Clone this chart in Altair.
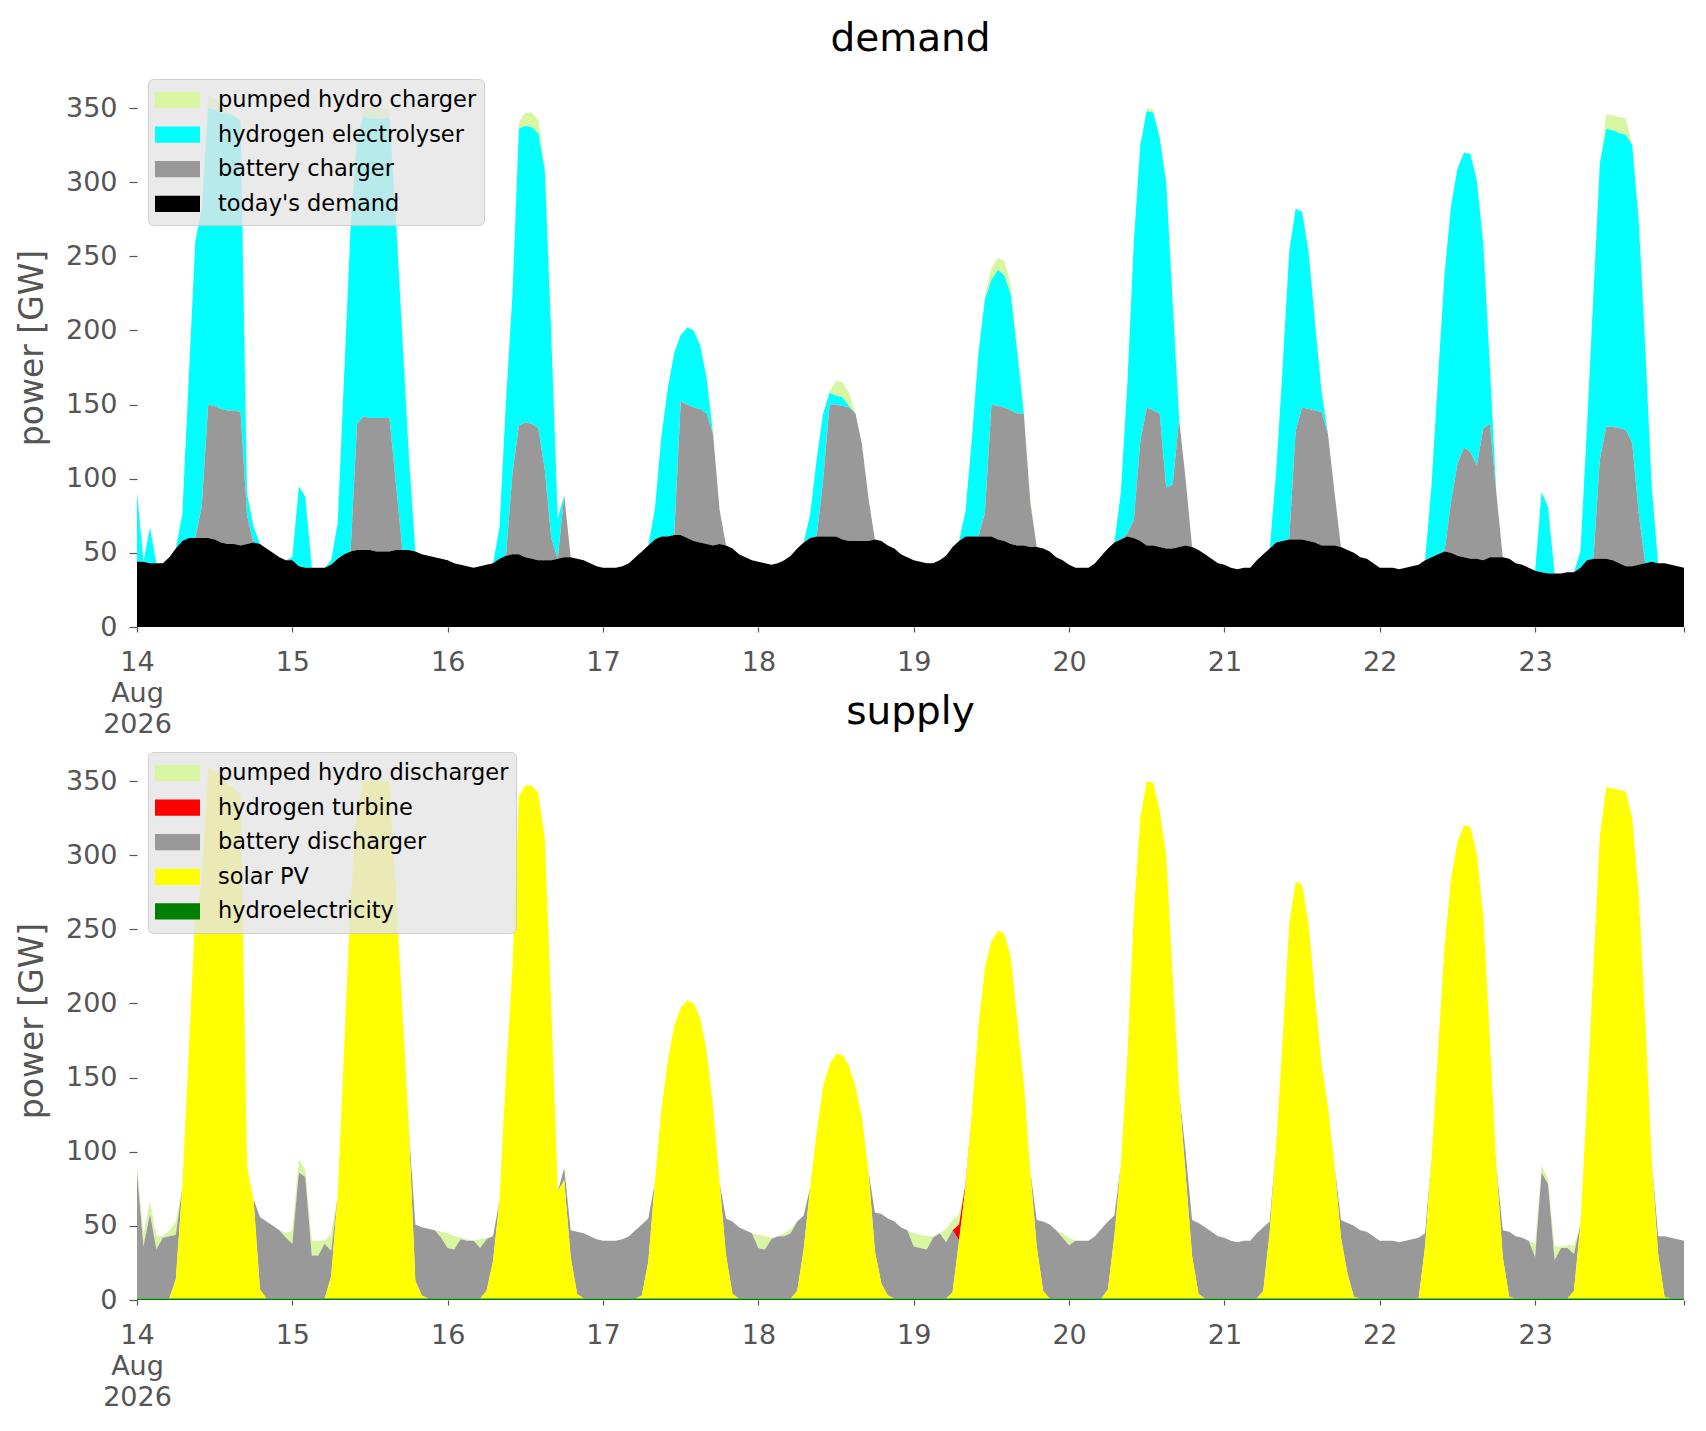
import altair as alt
import pandas as pd

# ---------------- data (hourly, 14 Aug 2026 00:00 .. 23 Aug 2026 23:00) ----------------
days = [14, 15, 16, 17, 18, 19, 20, 21, 22, 23]

# demand side
todays_demand = [
    [44, 44, 43, 43, 43, 47, 53, 58, 60, 60, 60, 60, 59, 57, 56, 56, 55, 56, 57, 56, 53, 50, 47, 45],
    [45, 41, 40, 40, 40, 40, 42, 46, 49, 51, 52, 52, 52, 51, 51, 51, 52, 52, 52, 51, 49, 48, 47, 46],
    [45, 43, 42, 41, 40, 41, 42, 43, 46, 48, 49, 49, 47, 46, 45, 45, 45, 46, 47, 47, 46, 45, 43, 41],
    [40, 40, 40, 41, 43, 47, 51, 55, 59, 61, 61, 62, 62, 60, 58, 57, 56, 55, 56, 55, 53, 49, 47, 45],
    [44, 43, 42, 43, 45, 48, 53, 57, 60, 61, 61, 61, 61, 59, 58, 58, 58, 58, 59, 58, 55, 53, 49, 47],
    [45, 44, 43, 43, 45, 48, 54, 58, 61, 61, 61, 61, 61, 59, 58, 56, 55, 55, 54, 54, 53, 51, 47, 45],
    [42, 40, 40, 40, 43, 48, 53, 57, 59, 61, 60, 58, 55, 55, 54, 53, 53, 54, 55, 54, 52, 49, 46, 43],
    [42, 40, 39, 40, 40, 45, 49, 53, 57, 58, 59, 59, 59, 58, 57, 55, 55, 55, 54, 52, 50, 47, 46, 43],
    [40, 40, 40, 39, 40, 41, 42, 45, 47, 49, 51, 50, 48, 47, 46, 46, 45, 47, 47, 47, 46, 43, 42, 40],
    [38, 37, 36, 36, 36, 37, 37, 40, 45, 46, 46, 46, 45, 43, 41, 41, 42, 43, 44, 43, 43, 42, 41, 40],
]
battery_charger = [
    [0, 0, 0, 0, 0, 0, 0, 0, 0, 0, 21, 90, 90, 90, 90, 90, 90, 19, 0, 0, 0, 0, 0, 0],
    [0, 0, 0, 0, 0, 0, 0, 0, 0, 0, 85, 90, 89, 90, 90, 90, 45, 0, 0, 0, 0, 0, 0, 0],
    [0, 0, 0, 0, 0, 0, 0, 0, 0, 0, 54, 87, 91, 91, 89, 61, 15, 0, 42, 0, 0, 0, 0, 0],
    [0, 0, 0, 0, 0, 0, 0, 0, 0, 0, 0, 0, 90, 90, 90, 90, 88, 75, 23, 0, 0, 0, 0, 0],
    [0, 0, 0, 0, 0, 0, 0, 0, 0, 0, 38, 89, 89, 90, 90, 86, 65, 29, 0, 0, 0, 0, 0, 0],
    [0, 0, 0, 0, 0, 0, 0, 0, 0, 0, 0, 16, 89, 90, 90, 90, 89, 89, 30, 0, 0, 0, 0, 0],
    [0, 0, 0, 0, 0, 0, 0, 0, 0, 2, 12, 67, 93, 91, 90, 41, 43, 86, 45, 0, 0, 0, 0, 0],
    [0, 0, 0, 0, 0, 0, 0, 0, 0, 0, 0, 73, 89, 89, 89, 90, 75, 36, 0, 0, 0, 0, 0, 0],
    [0, 0, 0, 0, 0, 0, 0, 0, 0, 0, 0, 34, 62, 74, 72, 63, 89, 90, 44, 0, 0, 0, 0, 0],
    [0, 0, 0, 0, 0, 0, 0, 0, 0, 0, 67, 89, 90, 91, 92, 83, 35, 0, 0, 0, 0, 0, 0, 0],
]
hydrogen_electrolyser = [
    [47, 0, 24, 0, 0, 0, 0, 18, 108, 200, 200, 200, 200, 200, 200, 199, 196, 15, 11, 0, 0, 0, 0, 0],
    [2, 54, 48, 0, 0, 0, 3, 24, 121, 219, 193, 203, 202, 202, 202, 202, 178, 143, 63, 0, 0, 0, 0, 0],
    [0, 0, 0, 0, 0, 0, 0, 0, 21, 104, 121, 200, 200, 200, 199, 202, 137, 27, 0, 0, 0, 0, 0, 0],
    [0, 0, 0, 0, 0, 0, 0, 0, 20, 67, 100, 123, 45, 52, 52, 43, 24, 0, 0, 0, 0, 0, 0, 0],
    [0, 0, 0, 0, 0, 0, 0, 0, 16, 52, 45, 8, 6, 6, 1, 0, 0, 0, 0, 0, 0, 0, 0, 0],
    [0, 0, 0, 0, 0, 0, 0, 0, 17, 67, 124, 144, 84, 92, 89, 78, 41, 0, 0, 0, 0, 0, 0, 0],
    [0, 0, 0, 0, 0, 0, 0, 0, 32, 101, 188, 200, 200, 201, 186, 206, 123, 0, 0, 0, 0, 0, 0, 0],
    [0, 0, 0, 0, 0, 0, 0, 0, 48, 118, 194, 150, 132, 106, 59, 14, 0, 0, 0, 0, 0, 0, 0, 0],
    [0, 0, 0, 0, 0, 0, 0, 0, 49, 119, 187, 200, 199, 199, 201, 192, 124, 39, 0, 0, 0, 0, 0, 0],
    [0, 54, 45, 0, 0, 0, 0, 11, 89, 178, 200, 201, 200, 199, 199, 201, 197, 147, 51, 0, 0, 0, 0, 0],
]
pumped_hydro_charger = [
    [0, 0, 0, 0, 0, 0, 0, 0, 0, 0, 0, 9, 8, 6, 2, 0, 0, 0, 0, 0, 0, 0, 0, 0],
    [0, 0, 0, 0, 0, 0, 0, 0, 0, 0, 0, 5, 7, 7, 7, 6, 0, 0, 0, 0, 0, 0, 0, 0],
    [0, 0, 0, 0, 0, 0, 0, 0, 0, 0, 0, 4, 9, 10, 9, 3, 0, 0, 0, 0, 0, 0, 0, 0],
    [0, 0, 0, 0, 0, 0, 0, 0, 0, 0, 0, 0, 0, 0, 0, 0, 0, 0, 0, 0, 0, 0, 0, 0],
    [0, 0, 0, 0, 0, 0, 0, 0, 0, 0, 0, 1, 10, 10, 9, 0, 0, 0, 0, 0, 0, 0, 0, 0],
    [0, 0, 0, 0, 0, 0, 0, 0, 0, 0, 0, 3, 8, 8, 10, 7, 3, 3, 3, 0, 0, 0, 0, 0],
    [0, 0, 0, 0, 0, 0, 0, 0, 0, 0, 0, 0, 2, 2, 0, 0, 0, 0, 0, 0, 0, 0, 0, 0],
    [0, 0, 0, 0, 0, 0, 0, 0, 0, 0, 0, 0, 0, 0, 0, 0, 0, 0, 0, 0, 0, 0, 0, 0],
    [0, 0, 0, 0, 0, 0, 0, 0, 0, 0, 0, 0, 0, 0, 0, 0, 0, 0, 0, 0, 0, 0, 0, 0],
    [0, 0, 0, 0, 0, 0, 0, 0, 0, 0, 0, 10, 10, 11, 11, 0, 0, 0, 0, 0, 0, 0, 0, 0],
]

# supply side
hydroelectricity = [
    [1, 1, 1, 1, 1, 1, 1, 1, 1, 1, 1, 1, 1, 1, 1, 1, 1, 1, 1, 1, 1, 1, 1, 1],
    [1, 1, 1, 1, 1, 1, 1, 1, 1, 1, 1, 1, 1, 1, 1, 1, 1, 1, 1, 1, 1, 1, 1, 1],
    [1, 1, 1, 1, 1, 1, 1, 1, 1, 1, 1, 1, 1, 1, 1, 1, 1, 1, 1, 1, 1, 1, 1, 1],
    [1, 1, 1, 1, 1, 1, 1, 1, 1, 1, 1, 1, 1, 1, 1, 1, 1, 1, 1, 1, 1, 1, 1, 1],
    [1, 1, 1, 1, 1, 1, 1, 1, 1, 1, 1, 1, 1, 1, 1, 1, 1, 1, 1, 1, 1, 1, 1, 1],
    [1, 1, 1, 1, 1, 1, 1, 1, 1, 1, 1, 1, 1, 1, 1, 1, 1, 1, 1, 1, 1, 1, 1, 1],
    [1, 1, 1, 1, 1, 1, 1, 1, 1, 1, 1, 1, 1, 1, 1, 1, 1, 1, 1, 1, 1, 1, 1, 1],
    [1, 1, 1, 1, 1, 1, 1, 1, 1, 1, 1, 1, 1, 1, 1, 1, 1, 1, 1, 1, 1, 1, 1, 1],
    [1, 1, 1, 1, 1, 1, 1, 1, 1, 1, 1, 1, 1, 1, 1, 1, 1, 1, 1, 1, 1, 1, 1, 1],
    [1, 1, 1, 1, 1, 1, 1, 1, 1, 1, 1, 1, 1, 1, 1, 1, 1, 1, 1, 1, 1, 1, 1, 1],
]
solar_pv = [
    [0, 0, 0, 0, 0, 0, 13, 75, 167, 259, 280, 358, 356, 352, 347, 344, 340, 89, 67, 6, 0, 0, 0, 0],
    [0, 0, 0, 0, 0, 0, 15, 69, 169, 269, 329, 349, 349, 349, 349, 348, 274, 194, 114, 12, 2, 0, 0, 0],
    [0, 0, 0, 0, 0, 0, 5, 25, 66, 151, 223, 339, 346, 346, 341, 310, 196, 72, 80, 28, 3, 0, 0, 0],
    [0, 0, 0, 0, 0, 0, 2, 25, 78, 127, 160, 184, 196, 201, 199, 189, 167, 129, 78, 29, 3, 0, 0, 0],
    [0, 0, 0, 0, 0, 0, 5, 33, 75, 112, 143, 158, 165, 164, 157, 143, 122, 86, 32, 10, 2, 0, 0, 0],
    [0, 0, 0, 0, 0, 0, 4, 39, 75, 127, 184, 223, 241, 248, 246, 230, 187, 146, 86, 35, 5, 0, 0, 0],
    [0, 0, 0, 0, 0, 0, 6, 42, 90, 163, 259, 324, 349, 348, 329, 299, 218, 139, 84, 29, 3, 0, 0, 0],
    [0, 0, 0, 0, 0, 0, 5, 45, 104, 175, 252, 281, 279, 252, 204, 158, 129, 90, 41, 17, 1, 0, 0, 0],
    [0, 0, 0, 0, 0, 0, 0, 35, 95, 167, 237, 283, 308, 319, 318, 300, 257, 175, 90, 28, 1, 0, 0, 0],
    [0, 0, 0, 0, 0, 0, 5, 50, 133, 223, 312, 345, 344, 343, 342, 324, 273, 189, 94, 30, 1, 0, 0, 0],
]
battery_discharger = [
    [85, 35, 57, 33, 41, 42, 30, 0, 0, 0, 0, 0, 0, 0, 0, 0, 0, 0, 0, 49, 52, 49, 46, 41],
    [37, 85, 82, 29, 29, 37, 17, 0, 0, 0, 0, 0, 0, 0, 0, 0, 0, 0, 0, 38, 46, 47, 46, 41],
    [34, 33, 40, 39, 39, 34, 35, 17, 0, 0, 0, 0, 0, 0, 0, 0, 0, 0, 8, 18, 42, 44, 42, 40],
    [39, 39, 39, 40, 42, 46, 48, 29, 0, 0, 0, 0, 0, 0, 0, 0, 0, 0, 0, 25, 49, 48, 46, 44],
    [34, 33, 40, 42, 42, 44, 47, 23, 0, 0, 0, 0, 0, 0, 0, 0, 0, 0, 26, 47, 52, 52, 48, 46],
    [35, 34, 33, 41, 44, 38, 42, 0, 0, 0, 0, 0, 0, 0, 0, 0, 0, 0, 0, 18, 47, 50, 46, 41],
    [36, 39, 39, 39, 42, 47, 46, 14, 0, 0, 0, 0, 0, 0, 0, 0, 0, 0, 15, 24, 48, 48, 45, 42],
    [41, 39, 38, 39, 39, 44, 43, 7, 0, 0, 0, 0, 0, 0, 0, 0, 0, 0, 12, 34, 48, 46, 45, 42],
    [39, 39, 39, 38, 39, 40, 41, 9, 0, 0, 0, 0, 0, 0, 0, 0, 0, 0, 0, 18, 44, 42, 41, 39],
    [28, 85, 77, 26, 34, 34, 25, 0, 0, 0, 0, 0, 0, 0, 0, 0, 0, 0, 0, 12, 41, 41, 40, 39],
]
hydrogen_turbine = [
    [0, 0, 0, 0, 0, 0, 0, 0, 0, 0, 0, 0, 0, 0, 0, 0, 0, 0, 0, 0, 0, 0, 0, 0],
    [0, 0, 0, 0, 0, 0, 0, 0, 0, 0, 0, 0, 0, 0, 0, 0, 0, 0, 0, 0, 0, 0, 0, 0],
    [0, 0, 0, 0, 0, 0, 0, 0, 0, 0, 0, 0, 0, 0, 0, 0, 0, 0, 0, 0, 0, 0, 0, 0],
    [0, 0, 0, 0, 0, 0, 0, 0, 0, 0, 0, 0, 0, 0, 0, 0, 0, 0, 0, 0, 0, 0, 0, 0],
    [0, 0, 0, 0, 0, 0, 0, 0, 0, 0, 0, 0, 0, 0, 0, 0, 0, 0, 0, 0, 0, 0, 0, 0],
    [0, 0, 0, 0, 0, 0, 0, 11, 2, 0, 0, 0, 0, 0, 0, 0, 0, 0, 0, 0, 0, 0, 0, 0],
    [0, 0, 0, 0, 0, 0, 0, 0, 0, 0, 0, 0, 0, 0, 0, 0, 0, 0, 0, 0, 0, 0, 0, 0],
    [0, 0, 0, 0, 0, 0, 0, 0, 0, 0, 0, 0, 0, 0, 0, 0, 0, 0, 0, 0, 0, 0, 0, 0],
    [0, 0, 0, 0, 0, 0, 0, 0, 0, 0, 0, 0, 0, 0, 0, 0, 0, 0, 0, 0, 0, 0, 0, 0],
    [0, 0, 0, 0, 0, 0, 0, 0, 0, 0, 0, 0, 0, 0, 0, 0, 0, 0, 0, 0, 0, 0, 0, 0],
]
pumped_hydro_discharger = [
    [5, 8, 9, 9, 1, 4, 9, 0, 0, 0, 0, 0, 0, 0, 0, 0, 0, 0, 0, 0, 0, 0, 0, 3],
    [9, 9, 5, 10, 10, 2, 12, 0, 0, 0, 0, 0, 0, 0, 0, 0, 0, 0, 0, 0, 0, 0, 0, 4],
    [10, 9, 1, 1, 0, 6, 1, 0, 0, 0, 0, 0, 0, 0, 0, 0, 0, 0, 0, 0, 0, 0, 0, 0],
    [0, 0, 0, 0, 0, 0, 0, 0, 0, 0, 0, 0, 0, 0, 0, 0, 0, 0, 0, 0, 0, 0, 0, 0],
    [9, 9, 1, 0, 2, 3, 0, 0, 0, 0, 0, 0, 0, 0, 0, 0, 0, 0, 0, 0, 0, 0, 0, 0],
    [9, 9, 9, 1, 0, 9, 7, 7, 0, 0, 0, 0, 0, 0, 0, 0, 0, 0, 0, 0, 0, 0, 0, 3],
    [5, 0, 0, 0, 0, 0, 0, 0, 0, 0, 0, 0, 0, 0, 0, 0, 0, 0, 0, 0, 0, 0, 0, 0],
    [0, 0, 0, 0, 0, 0, 0, 0, 0, 0, 0, 0, 0, 0, 0, 0, 0, 0, 0, 0, 0, 0, 0, 0],
    [0, 0, 0, 0, 0, 0, 0, 0, 0, 0, 0, 0, 0, 0, 0, 0, 0, 0, 0, 0, 0, 0, 0, 0],
    [9, 5, 3, 9, 1, 2, 6, 0, 0, 0, 0, 0, 0, 0, 0, 0, 0, 0, 0, 0, 0, 0, 0, 0],
]

# legend order (top of legend first) and colours
demand_names = ["pumped hydro charger", "hydrogen electrolyser", "battery charger", "today's demand"]
demand_colors = ["#d8f5a2", "#00ffff", "#999999", "#000000"]
demand_series = [pumped_hydro_charger, hydrogen_electrolyser, battery_charger, todays_demand]

supply_names = ["pumped hydro discharger", "hydrogen turbine", "battery discharger", "solar PV", "hydroelectricity"]
supply_colors = ["#d8f5a2", "#ff0000", "#999999", "#ffff00", "#008000"]
supply_series = [pumped_hydro_discharger, hydrogen_turbine, battery_discharger, solar_pv, hydroelectricity]

y_ticks = [0, 50, 100, 150, 200, 250, 300, 350]


def long_table(names, series):
    rows = []
    n = len(names)
    for i, (name, data) in enumerate(zip(names, series)):
        for di, day in enumerate(days):
            for h, v in enumerate(data[di]):
                rows.append({
                    "time": f"2026-08-{day:02d}T{h:02d}:00:00",
                    "series": name,
                    "value": v,
                    "k": n - 1 - i,  # stack position: last legend entry at the bottom
                })
    return pd.DataFrame(rows)


FONT = "DejaVu Sans"
GREY = "#555555"
x_start = alt.DateTime(year=2026, month=8, date=14, hours=0)
x_end = alt.DateTime(year=2026, month=8, date=23, hours=23)
x_tick_values = [alt.DateTime(year=2026, month=8, date=d) for d in days] + [x_end]

label_expr = ("date(datum.value) == 14 && hours(datum.value) == 0 ? ['14', 'Aug', '2026'] : "
              "(hours(datum.value) == 23 ? '' : '' + date(datum.value))")


def panel(title, names, colors, series):
    df = long_table(names, series)
    return alt.Chart(df).mark_area(interpolate="linear").encode(
        x=alt.X(
            "time:T",
            scale=alt.Scale(domain=[x_start, x_end], nice=False),
            axis=alt.Axis(
                title=None, values=x_tick_values, labelExpr=label_expr,
                grid=False, domain=False, tickSize=5, tickColor=GREY, tickWidth=1.2,
                labelColor=GREY, labelFontSize=27, labelFont=FONT, labelPadding=17,
                labelLineHeight=31, labelAngle=0, labelFlush=False, labelOverlap=False,
            ),
        ),
        y=alt.Y(
            "value:Q",
            stack="zero",
            scale=alt.Scale(domain=[0, 377], nice=False),
            axis=alt.Axis(
                title="power [GW]", values=y_ticks, grid=False, domain=False,
                tickSize=8, tickColor=GREY, tickWidth=1.2,
                labelColor=GREY, labelFontSize=27, labelFont=FONT, labelPadding=12,
                titleColor=GREY, titleFontSize=33, titleFont=FONT, titleFontWeight="normal",
                titlePadding=16,
            ),
        ),
        color=alt.Color(
            "series:N",
            scale=alt.Scale(domain=names, range=colors),
            legend=alt.Legend(
                title=None, orient="top-left", offset=11,
                fillColor="rgba(229,229,229,0.8)", strokeColor="rgba(200,200,200,0.8)",
                cornerRadius=5, padding=7,
                symbolType="M-1,-0.36L1,-0.36L1,0.36L-1,0.36Z", symbolSize=2025,
                symbolStrokeWidth=0, symbolOpacity=1,
                labelFontSize=22.5, labelFont=FONT, labelColor="#000000", labelOffset=18,
                clipHeight=28, rowPadding=6.6, labelLimit=0,
            ),
        ),
        order=alt.Order("k:Q", sort="ascending"),
    ).properties(
        width=1547,
        height=559,
        title=alt.TitleParams(title, fontSize=39, font=FONT, fontWeight="normal",
                              color="#000000", offset=9, anchor="middle"),
    )


demand_chart = panel("demand", demand_names, demand_colors, demand_series)
supply_chart = panel("supply", supply_names, supply_colors, supply_series)

chart = alt.vconcat(demand_chart, supply_chart, spacing=114, bounds="flush").resolve_scale(
    color="independent"
).resolve_legend(
    color="independent"
).configure_view(
    strokeWidth=0
).properties(
    background="white",
    padding={"left": 8, "top": 12, "right": 5, "bottom": 5},
)

chart.save("out.html", embed_options={"renderer": "svg", "actions": False})
